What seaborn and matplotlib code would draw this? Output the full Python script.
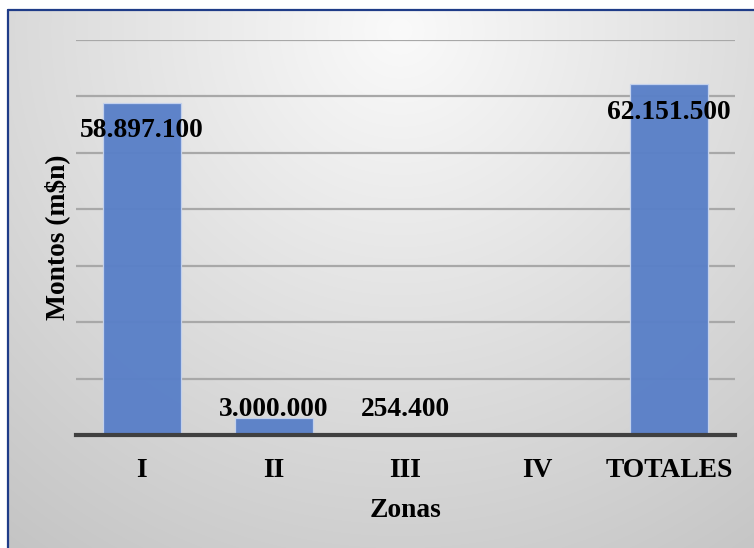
import numpy as np
import pandas as pd
import matplotlib
matplotlib.use("Agg")
import matplotlib.pyplot as plt
import seaborn as sns
from matplotlib.lines import Line2D

# ---- data ----
zonas = ["I", "II", "III", "IV", "TOTALES"]
montos = [58897100, 3000000, 254400, 0, 62151500]
etiquetas = ["58.897.100", "3.000.000", "254.400", "", "62.151.500"]
y_ticks = [0, 10e6, 20e6, 30e6, 40e6, 50e6, 60e6, 70e6]

df = pd.DataFrame({"Zonas": zonas, "Montos": montos})

sns.set_theme(style="white")
plt.rcParams["font.family"] = ["Liberation Serif", "DejaVu Serif"]

W, H = 754, 548
fig = plt.figure(figsize=(W / 100, H / 100), dpi=100)
fig.patch.set_facecolor("white")

# ---- background gradient (radial from top centre) ----
bg = fig.add_axes([0, 0, 1, 1], zorder=-10)
yy, xx = np.mgrid[0:H, 0:W]
d = np.sqrt((xx - 400) ** 2 + (yy - 30) ** 2)
val = (250 - 54 * d / 650) / 255.0
img = np.dstack([val, val, val])
img[:10, :, :] = 1.0
img[:, :7, :] = 1.0
bg.imshow(img, extent=[0, W, H, 0], aspect="auto", interpolation="bilinear")
bg.set_xlim(0, W)
bg.set_ylim(H, 0)
bg.axis("off")
border_c = "#1F3C88"
bg.add_line(Line2D([7.5, 7.5], [10, H], color=border_c, lw=1.6))
bg.add_line(Line2D([7.5, W], [10, 10], color=border_c, lw=1.6))

# ---- main axes ----
left, right = 76 / W, 735 / W
bottom, top = 1 - 435 / H, 1 - 40 / H
ax = fig.add_axes([left, bottom, right - left, top - bottom])
ax.set_facecolor("none")

sns.barplot(data=df, x="Zonas", y="Montos", color="#5A80C8", width=0.59,
            edgecolor="#C5D3EE", linewidth=0.9, alpha=0.97, ax=ax, zorder=3,
            saturation=1)

ax.set_ylim(0, 70e6)
ax.set_yticks(y_ticks)
ax.set_yticklabels([])
ax.tick_params(axis="y", length=0)
ax.tick_params(axis="x", length=0, pad=16.5)
ax.yaxis.grid(True, color="#A8A8A8", lw=1.6, zorder=0)
ax.set_axisbelow(True)
for s in ["top", "right", "left"]:
    ax.spines[s].set_visible(False)
ax.spines["bottom"].set_color("#404040")
ax.spines["bottom"].set_linewidth(3)
ax.spines["bottom"].set_zorder(5)

fs = 19.8
for lab in ax.get_xticklabels():
    lab.set_fontsize(fs)
    lab.set_fontweight("bold")
    lab.set_color("black")

ax.set_xlabel("Zonas", fontsize=fs, fontweight="bold", color="black", labelpad=11)
ax.set_ylabel("Montos (m$n)", fontsize=fs, fontweight="bold", color="black", labelpad=1)

# ---- value labels ----
for i, (v, t) in enumerate(zip(montos, etiquetas)):
    if not t:
        continue
    y = v - 4.95e6 if v > 30e6 else 4.6e6
    ax.text(i, y, t, ha="center", va="center", fontsize=fs,
            fontweight="bold", color="black", zorder=6)

fig.savefig("out.png", dpi=100)
